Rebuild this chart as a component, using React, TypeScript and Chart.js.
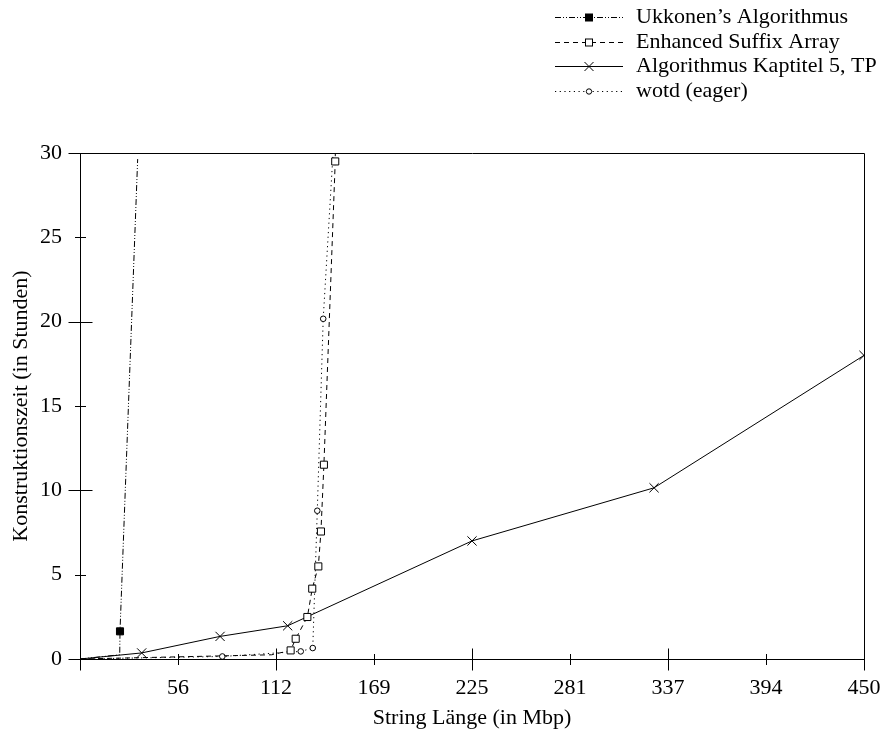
import React, { useEffect, useRef } from 'react';
import { Chart, registerables } from 'chart.js';

Chart.register(...registerables);

const seriesNames = [
  'Ukkonen’s Algorithmus',
  'Enhanced Suffix Array',
  'Algorithmus Kaptitel 5, TP',
  'wotd (eager)',
];

const ukkonenX = [0, 22.8, 22.96, 33.1];
const ukkonenY = [0, 0.25, 1.64, 29.64];
const ukkonenMarked = [false, false, true, false];

const esaX = [0, 110, 120.9, 123.8, 130.5, 133.3, 136.8, 138.3, 140.0, 146.5, 146.8];
const esaY = [0, 0.25, 0.51, 1.2, 2.49, 4.17, 5.49, 7.56, 11.52, 29.5, 33];
const esaMarked = [false, false, true, true, true, true, true, true, true, true, true];

const kapX = [0, 35.4, 80.4, 119.2, 225, 329.5, 450];
const kapY = [0, 0.36, 1.34, 1.97, 7.0, 10.15, 18.0];
const kapMarked = [false, true, true, true, true, true, true];

const wotdX = [0, 81.7, 126.7, 133.6, 136.2, 139.6, 146.4];
const wotdY = [0, 0.15, 0.45, 0.65, 8.79, 20.17, 32];
const wotdMarked = [false, true, true, true, true, true, true];

const xTickValues = [0, 56.25, 112.5, 168.75, 225, 281.25, 337.5, 393.75, 450];
const xTickLabels = ['', '56', '112', '169', '225', '281', '337', '394', '450'];
const yTickValues = [0, 5, 10, 15, 20, 25, 30];
const yTickLabels = ['0', '5', '10', '15', '20', '25', '30'];

const xTitle = 'String Länge (in Mbp)';
const yTitle = 'Konstruktionszeit (in Stunden)';

const FONT = "'Liberation Serif', 'Times New Roman', serif";
const FS = 22;

const pts = (xs: number[], ys: number[]) => xs.map((x, i) => ({ x, y: ys[i] }));
const radii = (m: boolean[], r: number) => m.map((b) => (b ? r : 0));

const framePlugin = {
  id: 'frameTicks',
  beforeDatasetsDraw(chart: any) {
    const { ctx, chartArea: a, scales } = chart;
    ctx.save();
    ctx.strokeStyle = '#000';
    ctx.lineWidth = 1;
    ctx.setLineDash([]);
    const L = Math.round(a.left) + 0.5;
    const R = Math.round(a.right) + 0.5;
    const T = Math.round(a.top) + 0.5;
    const B = Math.round(a.bottom) + 0.5;
    ctx.beginPath();
    ctx.rect(L, T, R - L, B - T);
    ctx.stroke();
    ctx.beginPath();
    scales.x.ticks.forEach((t: any, i: number) => {
      const px = Math.round(scales.x.getPixelForValue(t.value)) + 0.5;
      const len = i % 2 === 0 ? 11 : 5.5;
      ctx.moveTo(px, B - len);
      ctx.lineTo(px, B + len);
    });
    scales.y.ticks.forEach((t: any, i: number) => {
      const py = Math.round(scales.y.getPixelForValue(t.value)) + 0.5;
      const len = i % 2 === 0 ? 12 : 5.5;
      ctx.moveTo(L - len, py);
      ctx.lineTo(L + len, py);
    });
    ctx.stroke();
    ctx.restore();
  },
};

const legendPlugin = {
  id: 'gnuKey',
  afterDraw(chart: any) {
    const { ctx } = chart;
    ctx.save();
    chart.data.datasets.forEach((ds: any, i: number) => {
      const y = Math.round(17 + i * 24.5) + 0.5;
      const x0 = 555;
      const x1 = 623;
      const xm = 589;
      ctx.strokeStyle = '#000';
      ctx.lineWidth = 1;
      ctx.setLineDash(ds.borderDash || []);
      ctx.beginPath();
      ctx.moveTo(x0, y);
      ctx.lineTo(x1, y);
      ctx.stroke();
      ctx.setLineDash([]);
      const st = ds.pointStyle;
      if (st === 'rect') {
        const s = ds.legendMarkerSize;
        ctx.fillStyle = ds.pointBackgroundColor;
        ctx.fillRect(xm - s / 2, y - s / 2, s, s);
        ctx.strokeRect(xm - s / 2, y - s / 2, s, s);
      } else if (st === 'crossRot') {
        const d = 4.5;
        ctx.beginPath();
        ctx.moveTo(xm - d, y - d);
        ctx.lineTo(xm + d, y + d);
        ctx.moveTo(xm - d, y + d);
        ctx.lineTo(xm + d, y - d);
        ctx.stroke();
      } else if (st === 'circle') {
        ctx.fillStyle = '#fff';
        ctx.beginPath();
        ctx.arc(xm, y, 2.7, 0, Math.PI * 2);
        ctx.fill();
        ctx.stroke();
      }
      ctx.fillStyle = '#000';
      ctx.font = `${FS}px ${FONT}`;
      ctx.textAlign = 'left';
      ctx.textBaseline = 'middle';
      ctx.fillText(ds.label, 636, y);
    });
    ctx.restore();
  },
};

export default function App() {
  const ref = useRef<HTMLCanvasElement>(null);

  useEffect(() => {
    document.body.style.margin = '0';
    const canvas = ref.current;
    if (!canvas) return;
    const chart = new Chart(canvas, {
      type: 'line',
      data: {
        datasets: [
          {
            label: seriesNames[0],
            data: pts(ukkonenX, ukkonenY),
            borderColor: '#000',
            borderWidth: 1,
            borderDash: [6, 2, 1, 2, 1, 2],
            pointStyle: 'rect',
            pointRadius: radii(ukkonenMarked, 5),
            pointBackgroundColor: '#000',
            pointBorderColor: '#000',
            legendMarkerSize: 7,
            tension: 0,
            fill: false,
          } as any,
          {
            label: seriesNames[1],
            data: pts(esaX, esaY),
            borderColor: '#000',
            borderWidth: 1,
            borderDash: [5, 4],
            pointStyle: 'rect',
            pointRadius: radii(esaMarked, 5),
            pointBackgroundColor: '#fff',
            pointBorderColor: '#000',
            pointBorderWidth: 1,
            legendMarkerSize: 7,
            tension: 0,
            fill: false,
          } as any,
          {
            label: seriesNames[2],
            data: pts(kapX, kapY),
            borderColor: '#000',
            borderWidth: 1,
            pointStyle: 'crossRot',
            pointRadius: radii(kapMarked, 6.5),
            pointBorderColor: '#000',
            pointBorderWidth: 1,
            tension: 0,
            fill: false,
          } as any,
          {
            label: seriesNames[3],
            data: pts(wotdX, wotdY),
            borderColor: '#000',
            borderWidth: 1,
            borderDash: [1.2, 3.5],
            pointStyle: 'circle',
            pointRadius: radii(wotdMarked, 2.8),
            pointBackgroundColor: '#fff',
            pointBorderColor: '#000',
            pointBorderWidth: 1,
            tension: 0,
            fill: false,
          } as any,
        ],
      },
      options: {
        animation: false,
        responsive: false,
        devicePixelRatio: 1,
        events: [],
        layout: { padding: { top: 153, right: 18, left: 0, bottom: 0 } },
        plugins: {
          legend: { display: false },
          tooltip: { enabled: false },
          title: { display: false },
        },
        scales: {
          x: {
            type: 'linear',
            min: 0,
            max: 450,
            afterBuildTicks: (scale: any) => {
              scale.ticks = xTickValues.map((v) => ({ value: v }));
            },
            afterFit: (scale: any) => {
              scale.height = 75;
              scale.paddingLeft = 0;
              scale.paddingRight = 0;
            },
            grid: { display: false, drawTicks: false },
            border: { display: false },
            ticks: {
              autoSkip: false,
              maxRotation: 0,
              padding: 16,
              color: '#000',
              font: { family: FONT, size: FS },
              callback: (_v: any, i: number) => xTickLabels[i],
            },
            title: {
              display: true,
              text: xTitle,
              color: '#000',
              font: { family: FONT, size: FS },
              padding: { top: 0, bottom: 3 },
            },
          },
          y: {
            type: 'linear',
            min: 0,
            max: 30,
            afterBuildTicks: (scale: any) => {
              scale.ticks = yTickValues.map((v) => ({ value: v }));
            },
            afterFit: (scale: any) => {
              scale.width = 80;
              scale.paddingTop = 0;
              scale.paddingBottom = 0;
            },
            grid: { display: false, drawTicks: false },
            border: { display: false },
            ticks: {
              autoSkip: false,
              padding: 18,
              color: '#000',
              font: { family: FONT, size: FS },
              callback: (_v: any, i: number) => yTickLabels[i],
            },
            title: {
              display: true,
              text: yTitle,
              color: '#000',
              font: { family: FONT, size: FS },
              padding: { top: 8, bottom: 0 },
            },
          },
        },
      } as any,
      plugins: [framePlugin, legendPlugin],
    });
    return () => chart.destroy();
  }, []);

  return (
    <div style={{ width: 882, height: 734 }}>
      <canvas ref={ref} width={882} height={734} style={{ display: 'block' }} />
    </div>
  );
}
